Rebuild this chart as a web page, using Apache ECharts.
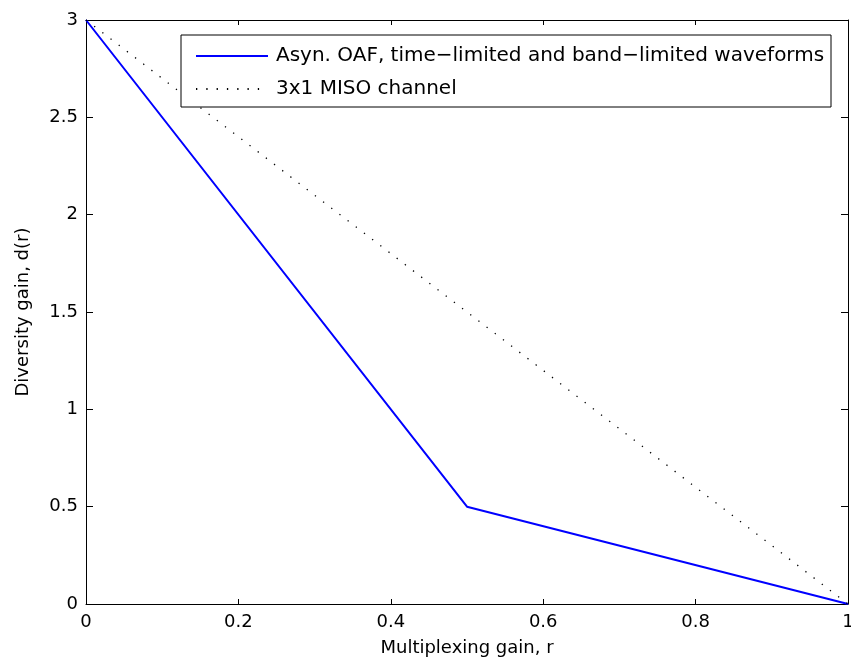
<!DOCTYPE html>
<html><head><meta charset="utf-8">
<script src="https://cdn.jsdelivr.net/npm/echarts@6/dist/echarts.min.js"></script>
<style>html,body{margin:0;padding:0;background:#fff}#c{width:851px;height:666px}</style>
</head><body><div id="c"></div>
<script>
const oafX = [0, 0.5, 1];
const oafY = [3, 0.5, 0];
const misoX = [0, 1];
const misoY = [3, 0];
const seriesNames = ['Asyn. OAF, time\u2212limited and band\u2212limited waveforms', '3x1 MISO channel'];
const xLabel = 'Multiplexing gain, r';
const yLabel = 'Diversity gain, d(r)';

const font = 'DejaVu Sans, Liberation Sans, Arial, sans-serif';
const chart = echarts.init(document.getElementById('c'), null, {renderer: 'canvas'});
function axisCommon(tickLen) {
  return {
    axisLine: {show: true, onZero: false, lineStyle: {color: '#000', width: 1}},
    axisTick: {show: true, inside: true, length: tickLen, lineStyle: {color: '#000'}},
    splitLine: {show: false}
  };
}
chart.setOption({
  animation: false,
  backgroundColor: '#fff',
  grid: {left: 86, right: 3, top: 20, bottom: 62, containLabel: false, outerBoundsMode: 'none'},
  graphic: [{type: 'rect', shape: {x: 181, y: 35, width: 650, height: 72},
    style: {fill: '#fff', stroke: '#000', lineWidth: 1}, z: 10}],
  legend: {
    orient: 'vertical', left: 181, top: 35, z: 20,
    backgroundColor: 'transparent', borderWidth: 0,
    padding: [10, 2, 6, 14], itemGap: 11, itemWidth: 72, itemHeight: 22,
    itemStyle: {opacity: 0},
    textStyle: {fontFamily: font, fontSize: 20, color: '#000', lineHeight: 22, padding: [0, 0, 0, 3]},
    data: seriesNames.map(n => ({name: n}))
  },
  xAxis: [
    Object.assign({type: 'value', min: 0, max: 1, interval: 0.2, position: 'bottom',
      name: xLabel, nameLocation: 'middle', nameGap: 35,
      nameTextStyle: {fontFamily: font, fontSize: 18, color: '#000'},
      axisLabel: {fontFamily: font, fontSize: 18, color: '#000', margin: 9,
        formatter: v => String(+v.toFixed(1))}}, axisCommon(5)),
    Object.assign({type: 'value', min: 0, max: 1, interval: 0.2, position: 'top',
      axisLabel: {show: false}}, axisCommon(5))
  ],
  yAxis: [
    Object.assign({type: 'value', min: 0, max: 3, interval: 0.5, position: 'left',
      name: yLabel, nameLocation: 'middle', nameGap: 54,
      nameTextStyle: {fontFamily: font, fontSize: 18, color: '#000'},
      axisLabel: {fontFamily: font, fontSize: 18, color: '#000', margin: 8,
        formatter: v => String(+v.toFixed(1))}}, axisCommon(7)),
    Object.assign({type: 'value', min: 0, max: 3, interval: 0.5, position: 'right',
      axisLabel: {show: false}}, axisCommon(7))
  ],
  series: [
    {name: seriesNames[0], type: 'line', data: oafX.map((x, i) => [x, oafY[i]]),
      symbol: 'none', lineStyle: {color: '#0000ff', width: 2}, itemStyle: {color: '#0000ff'}},
    {name: seriesNames[1], type: 'line', data: misoX.map((x, i) => [x, misoY[i]]),
      symbol: 'none', lineStyle: {color: '#000', width: 1.3, type: [1.3, 9]}, itemStyle: {color: '#000'}}
  ]
});
</script></body></html>
